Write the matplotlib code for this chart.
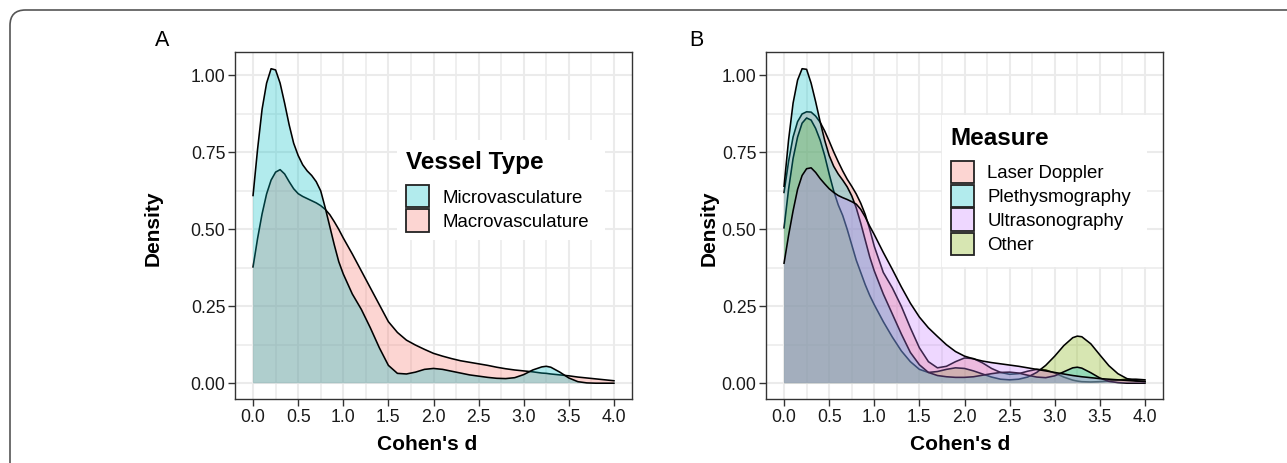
import numpy as np
import matplotlib
matplotlib.use("Agg")
import matplotlib.pyplot as plt
from matplotlib.patches import Rectangle, FancyBboxPatch
from matplotlib.ticker import MultipleLocator
from matplotlib.colors import to_rgba

plt.rcParams['font.family'] = ['Liberation Sans', 'DejaVu Sans']

# ---------------- data ----------------
d_grid = [0.0, 0.05, 0.1, 0.15, 0.2, 0.25, 0.3, 0.35, 0.4, 0.45, 0.5, 0.55, 0.6, 0.65, 0.7,
          0.75, 0.8, 0.85, 0.9, 0.95, 1.0,
          1.1, 1.2, 1.3, 1.4, 1.5, 1.6, 1.7, 1.8, 1.9, 2.0, 2.1, 2.2, 2.3, 2.4, 2.5, 2.6,
          2.7, 2.8, 2.9, 3.0, 3.1, 3.2,
          3.25, 3.3, 3.4, 3.5, 3.6, 3.7, 3.8, 3.9, 4.0]

# Panel A
vessel_labels = ["Microvasculature", "Macrovasculature"]
micro = [0.61, 0.76, 0.89, 0.975, 1.022, 1.018, 0.975, 0.91, 0.84, 0.78, 0.74, 0.71, 0.69, 0.675, 0.655,
         0.625, 0.57, 0.51, 0.45, 0.395, 0.355,
         0.29, 0.24, 0.18, 0.115, 0.058, 0.032, 0.03, 0.036, 0.045, 0.048, 0.045, 0.039, 0.033, 0.027, 0.023, 0.019,
         0.016, 0.015, 0.018, 0.028, 0.043, 0.053,
         0.055, 0.052, 0.036, 0.017, 0.005, 0.001, 0.0, 0.0, 0.0]
macro = [0.378, 0.47, 0.55, 0.615, 0.66, 0.686, 0.694, 0.68, 0.655, 0.632, 0.616, 0.607, 0.6, 0.593, 0.586,
         0.577, 0.565, 0.548, 0.525, 0.5, 0.472,
         0.42, 0.365, 0.31, 0.255, 0.2, 0.165, 0.14, 0.124, 0.11, 0.097, 0.088, 0.08, 0.073, 0.068, 0.063, 0.058,
         0.052, 0.047, 0.043, 0.04, 0.037, 0.033,
         0.032, 0.03, 0.027, 0.024, 0.02, 0.017, 0.014, 0.011, 0.008]

# Panel B
measure_labels = ["Laser Doppler", "Plethysmography", "Ultrasonography", "Other"]
laser_doppler = [0.62, 0.72, 0.80, 0.85, 0.875, 0.882, 0.881, 0.868, 0.848, 0.82, 0.787, 0.752, 0.72, 0.69, 0.663,
                 0.64, 0.615, 0.585, 0.548, 0.5, 0.445,
                 0.36, 0.31, 0.25, 0.18, 0.115, 0.07, 0.05, 0.055, 0.07, 0.082, 0.08, 0.066, 0.048, 0.035, 0.029, 0.031,
                 0.039, 0.045, 0.043, 0.033, 0.02, 0.01,
                 0.007, 0.005, 0.004, 0.005, 0.007, 0.01, 0.013, 0.013, 0.011]
plethysmography = [0.64, 0.79, 0.91, 0.985, 1.022, 1.02, 0.975, 0.915, 0.85, 0.79, 0.74, 0.705, 0.68, 0.66, 0.638,
                   0.609, 0.57, 0.52, 0.465, 0.41, 0.365,
                   0.29, 0.225, 0.16, 0.10, 0.06, 0.035, 0.025, 0.021, 0.019, 0.019, 0.021, 0.026, 0.031, 0.035, 0.036, 0.033,
                   0.026, 0.02, 0.018, 0.024, 0.037, 0.05,
                   0.052, 0.049, 0.034, 0.017, 0.006, 0.002, 0.0, 0.0, 0.0]
ultrasonography = [0.39, 0.48, 0.56, 0.63, 0.675, 0.697, 0.70, 0.685, 0.665, 0.648, 0.632, 0.62, 0.61, 0.603, 0.597,
                   0.59, 0.582, 0.565, 0.54, 0.51, 0.483,
                   0.425, 0.37, 0.313, 0.26, 0.215, 0.18, 0.152, 0.125, 0.103, 0.088, 0.079, 0.072, 0.067, 0.063, 0.059, 0.055,
                   0.05, 0.045, 0.04, 0.035, 0.03, 0.025,
                   0.023, 0.021, 0.018, 0.015, 0.013, 0.011, 0.009, 0.007, 0.006]
other = [0.505, 0.63, 0.73, 0.80, 0.845, 0.862, 0.855, 0.828, 0.79, 0.74, 0.68, 0.625, 0.58, 0.545, 0.5,
         0.45, 0.40, 0.36, 0.32, 0.285, 0.255,
         0.2, 0.15, 0.105, 0.07, 0.045, 0.035, 0.038, 0.045, 0.05, 0.048, 0.04, 0.03, 0.02, 0.013, 0.011, 0.013,
         0.02, 0.035, 0.058, 0.088, 0.122, 0.148,
         0.153, 0.151, 0.128, 0.092, 0.057, 0.031, 0.015, 0.008, 0.005]

x_ticks = [0.0, 0.5, 1.0, 1.5, 2.0, 2.5, 3.0, 3.5, 4.0]
y_ticks = [0.0, 0.25, 0.5, 0.75, 1.0]

C_RED, C_CYAN, C_PURPLE, C_GREEN = "#F8766D", "#00BFC4", "#C77CFF", "#7CAE00"
ALPHA = 0.3

# ---------------- figure ----------------
W, H = 1287, 463
fig = plt.figure(figsize=(W / 100, H / 100), dpi=100)


def fx(x):
    return x / W


def fy(y):
    return 1 - y / H


# rounded outer border
fig.add_artist(FancyBboxPatch((fx(10), fy(500)), fx(1300), (490) / H,
                              boxstyle="round,pad=0,rounding_size=0.012",
                              transform=fig.transFigure, facecolor="none",
                              edgecolor="#555555", lw=1.2, zorder=0,
                              mutation_aspect=W / H))


def make_axes(left):
    ax = fig.add_axes([fx(left), fy(399), 397 / W, 347 / H])
    ax.set_xlim(-0.2, 4.2)
    ax.set_ylim(-0.0513, 1.0763)
    ax.xaxis.set_major_locator(MultipleLocator(0.5))
    ax.xaxis.set_minor_locator(MultipleLocator(0.25))
    ax.yaxis.set_major_locator(MultipleLocator(0.25))
    ax.yaxis.set_minor_locator(MultipleLocator(0.125))
    ax.set_xticks(x_ticks)
    ax.set_xticklabels([f"{v:.1f}" for v in x_ticks])
    ax.set_yticks(y_ticks)
    ax.set_yticklabels([f"{v:.2f}" for v in y_ticks])
    ax.set_axisbelow(True)
    ax.grid(which="major", color="#EBEBEB", lw=1.5)
    ax.grid(which="minor", color="#EBEBEB", lw=1.1)
    ax.tick_params(which="major", labelsize=12.7, length=5, width=1.0,
                   color="#333333", pad=2, labelcolor="#1a1a1a")
    ax.tick_params(which="minor", length=0)
    for s in ax.spines.values():
        s.set_color("#333333")
        s.set_linewidth(1.0)
    return ax


def draw_density(ax, ys, color, z):
    ax.fill_between(d_grid, ys, 0, facecolor=color, alpha=ALPHA, lw=0, zorder=z)
    ax.plot(d_grid, ys, color="black", lw=1.15, zorder=z + 0.5)


# Panel A
axA = make_axes(235)
draw_density(axA, macro, C_RED, 2)
draw_density(axA, micro, C_CYAN, 3)

# Panel B
axB = make_axes(766)
draw_density(axB, laser_doppler, C_RED, 2)
draw_density(axB, other, C_GREEN, 3)
draw_density(axB, plethysmography, C_CYAN, 4)
draw_density(axB, ultrasonography, C_PURPLE, 5)

# axis titles and tags
for cx in (427, 960):
    fig.text(fx(cx), fy(445), "Cohen's d", fontsize=15, fontweight="bold",
             ha="center", va="center")
for cx in (153, 709):
    fig.text(fx(cx), fy(228), "Density", fontsize=15, fontweight="bold",
             ha="center", va="center", rotation=90)
fig.text(fx(162), fy(41), "A", fontsize=15.5, ha="center", va="center")
fig.text(fx(696), fy(41), "B", fontsize=15.5, ha="center", va="center")


# legends (drawn manually at figure pixel positions)
def legend(bg, title, title_xy, key_x, key_top, labels, colors, label_x):
    x0, y0, x1, y1 = bg
    fig.add_artist(Rectangle((fx(x0), fy(y1)), (x1 - x0) / W, (y1 - y0) / H,
                             transform=fig.transFigure, facecolor="white",
                             edgecolor="none", zorder=5))
    fig.text(fx(title_xy[0]), fy(title_xy[1]), title, fontsize=17.5,
             fontweight="bold", ha="left", va="baseline", zorder=6)
    step = 24
    for i, (lab, col) in enumerate(zip(labels, colors)):
        top = key_top + i * step
        fig.add_artist(Rectangle((fx(key_x), fy(top + 22.5)), 22.5 / W, 22.5 / H,
                                 transform=fig.transFigure,
                                 facecolor=to_rgba(col, ALPHA),
                                 edgecolor="#222222", lw=1.3, zorder=6))
        fig.text(fx(label_x), fy(top + 11.25 + 6.6), lab, fontsize=13.4,
                 ha="left", va="baseline", zorder=6)


legend((397, 140, 605, 240), "Vessel Type", (405.7, 169), 406, 185,
       vessel_labels, [C_CYAN, C_RED], 442)
legend((941.7, 115, 1146.7, 266.7), "Measure", (950.7, 145), 951, 160.5,
       measure_labels, [C_RED, C_CYAN, C_PURPLE, C_GREEN], 987.3)

fig.savefig("out.png", dpi=100)
